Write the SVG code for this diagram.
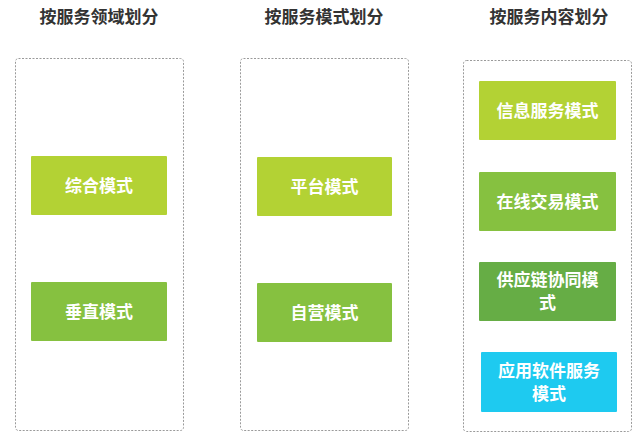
<svg xmlns="http://www.w3.org/2000/svg" width="640" height="437" viewBox="0 0 640 437">
<style>
.title{font-family:"Noto Sans CJK SC","Noto Sans",sans-serif;font-weight:bold;font-size:17px;fill:#333;text-anchor:middle}
.lbl{font-family:"Noto Sans CJK SC","Noto Sans",sans-serif;font-weight:bold;font-size:17px;fill:#fff;text-anchor:middle}
.panel{fill:none;stroke:#9a9a9a;stroke-width:1;stroke-dasharray:2 1.5}
</style>
<rect width="640" height="437" fill="#fff"/>
<text class="title" x="99" y="23">按服务领域划分</text>
<text class="title" x="324" y="23">按服务模式划分</text>
<text class="title" x="549" y="23">按服务内容划分</text>
<rect class="panel" x="15.5" y="58.5" width="168" height="372" rx="3"/>
<rect class="panel" x="240.5" y="58.5" width="168" height="372" rx="3"/>
<rect class="panel" x="463.5" y="60.5" width="168" height="371" rx="3"/>
<g id="connectors"></g>
<g id="n1"><rect x="31" y="156" width="136" height="59" rx="1" fill="#b3d234"/><text class="lbl" x="99" y="192">综合模式</text></g>
<g id="n2"><rect x="31" y="282" width="136" height="59" rx="1" fill="#86c140"/><text class="lbl" x="99" y="318">垂直模式</text></g>
<g id="n3"><rect x="257" y="157" width="135" height="59" rx="1" fill="#b3d234"/><text class="lbl" x="324.5" y="193">平台模式</text></g>
<g id="n4"><rect x="257" y="283" width="135" height="59" rx="1" fill="#86c140"/><text class="lbl" x="324.5" y="319">自营模式</text></g>
<g id="n5"><rect x="479" y="81" width="137" height="59" rx="1" fill="#b3d234"/><text class="lbl" x="547.5" y="117">信息服务模式</text></g>
<g id="n6"><rect x="479" y="172" width="137" height="59" rx="1" fill="#86c140"/><text class="lbl" x="547.5" y="208">在线交易模式</text></g>
<g id="n7"><rect x="479" y="262" width="137" height="59" rx="1" fill="#66ad45"/><text class="lbl" x="547.5" y="286">供应链协同模</text><text class="lbl" x="547.5" y="309">式</text></g>
<g id="n8"><rect x="481" y="352" width="136" height="60" rx="1" fill="#1ecaf0"/><text class="lbl" x="549" y="377">应用软件服务</text><text class="lbl" x="549" y="400">模式</text></g>
</svg>
